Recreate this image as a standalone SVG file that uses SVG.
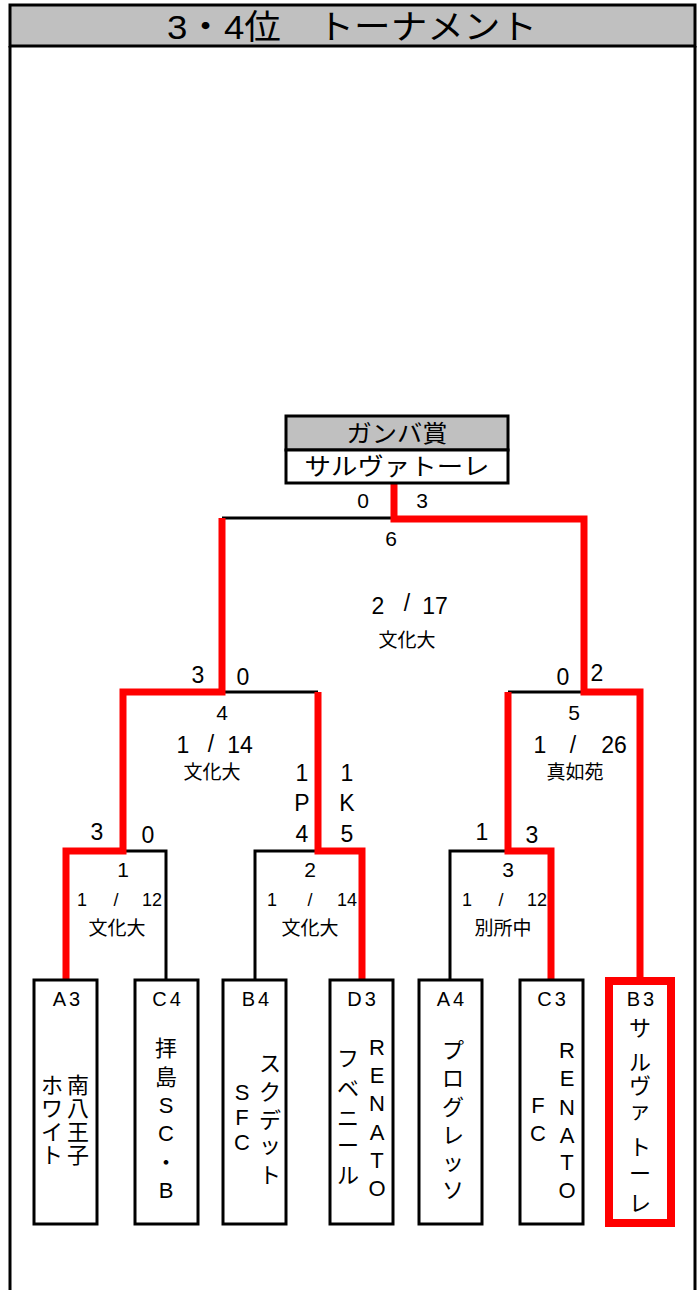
<svg xmlns="http://www.w3.org/2000/svg" width="700" height="1290" viewBox="0 0 700 1290">
<style>
text{font-family:"Liberation Sans","Noto Sans CJK JP",sans-serif;fill:#000;text-anchor:middle}
.s{font-size:21px}
.m{font-size:23px}
.sm{font-size:18px}
.k{font-size:19px}
.v{font-size:22px}
.lab{font-size:20px;letter-spacing:3px}
.blk{fill:none;stroke:#000;stroke-width:3}
.red{fill:none;stroke:#ff0000;stroke-width:7;stroke-linejoin:miter}
.box{fill:#fff;stroke:#000;stroke-width:3}
</style>
<rect width="700" height="1290" fill="#fff"/>
<g id="frame">
<rect x="10" y="5" width="685" height="41" fill="#c0c0c0" stroke="#000" stroke-width="3"/>
<line x1="10" y1="46" x2="10" y2="1290" stroke="#000" stroke-width="3"/>
<line x1="695" y1="46" x2="695" y2="1290" stroke="#000" stroke-width="3"/>
<text x="352" y="39" style="font-size:34px" textLength="370" lengthAdjust="spacingAndGlyphs">3・4位　トーナメント</text>
</g>
<g id="connectors">
<path class="blk" d="M222,518 H394"/>
<path class="blk" d="M222,692 H318"/>
<path class="blk" d="M123,851 H166 V980"/>
<path class="blk" d="M255,980 V851 H318"/>
<path class="blk" d="M508,692 H584"/>
<path class="blk" d="M450,980 V851 H508"/>
<path class="red" d="M394,483 V519 H584 V692 H640 V978"/>
<path class="red" d="M222,518 V692 H123 V851 H66 V980"/>
<path class="red" d="M318,692 V851 H362 V980"/>
<path class="red" d="M508,692 V851 H551 V980"/>
</g>
<g id="champion">
<rect x="286" y="416" width="222" height="34" fill="#c0c0c0" stroke="#000" stroke-width="3"/>
<rect x="286" y="450" width="222" height="33" fill="#fff" stroke="#000" stroke-width="3"/>
<text x="397" y="442" style="font-size:24px" textLength="101" lengthAdjust="spacingAndGlyphs">ガンバ賞</text>
<text x="397" y="475" style="font-size:24px" textLength="185" lengthAdjust="spacingAndGlyphs">サルヴァトーレ</text>
</g>
<g id="match6">
<text class="s" x="363" y="508">0</text>
<text class="s" x="422" y="508">3</text>
<text class="s" x="391" y="546">6</text>
<text class="m" x="378" y="614">2</text>
<text class="m" x="407" y="611">/</text>
<text class="m" x="435" y="614">17</text>
<text class="k" x="407" y="647">文化大</text>
</g>
<g id="match4">
<text class="m" x="198" y="683">3</text>
<text class="m" x="243" y="685">0</text>
<text class="s" x="222" y="720">4</text>
<text class="m" x="183" y="753">1</text>
<text class="m" x="211" y="752">/</text>
<text class="m" x="240" y="753">14</text>
<text class="k" x="212" y="779">文化大</text>
<text class="m" x="302" y="781">1</text>
<text class="m" x="302" y="811">P</text>
<text class="m" x="302" y="842">4</text>
<text class="m" x="347" y="781">1</text>
<text class="m" x="347" y="811">K</text>
<text class="m" x="347" y="842">5</text>
</g>
<g id="match5">
<text class="m" x="563" y="685">0</text>
<text class="m" x="597" y="681">2</text>
<text class="s" x="574" y="720">5</text>
<text class="m" x="540" y="753">1</text>
<text class="m" x="573" y="753">/</text>
<text class="m" x="614" y="753">26</text>
<text class="k" x="575" y="779">真如苑</text>
</g>
<g id="match1">
<text class="m" x="97" y="840">3</text>
<text class="m" x="148" y="843">0</text>
<text class="s" x="123" y="877">1</text>
<text class="sm" x="82" y="906">1</text>
<text class="sm" x="116" y="906">/</text>
<text class="sm" x="152" y="906">12</text>
<text class="k" x="117" y="935">文化大</text>
</g>
<g id="match2">
<text class="s" x="310" y="877">2</text>
<text class="sm" x="272" y="906">1</text>
<text class="sm" x="310" y="906">/</text>
<text class="sm" x="347" y="906">14</text>
<text class="k" x="310" y="935">文化大</text>
</g>
<g id="match3">
<text class="m" x="482" y="840">1</text>
<text class="m" x="532" y="843">3</text>
<text class="s" x="508" y="877">3</text>
<text class="sm" x="467" y="906">1</text>
<text class="sm" x="501" y="906">/</text>
<text class="sm" x="537" y="906">12</text>
<text class="k" x="503" y="935">別所中</text>
</g>
<g id="teamA3">
<rect class="box" x="34" y="980" width="63" height="244"/>
<text class="lab" x="68" y="1006">A3</text>
<text class="v"><tspan x="78" y="1093">南</tspan><tspan x="78" y="1116">八</tspan><tspan x="78" y="1140">王</tspan><tspan x="78" y="1163">子</tspan></text>
<text class="v"><tspan x="52" y="1093">ホ</tspan><tspan x="52" y="1116">ワ</tspan><tspan x="52" y="1140">イ</tspan><tspan x="52" y="1163">ト</tspan></text>
</g>
<g id="teamC4">
<rect class="box" x="135" y="980" width="63" height="244"/>
<text class="lab" x="168" y="1006">C4</text>
<text class="v"><tspan x="166" y="1056">拝</tspan><tspan x="166" y="1085">島</tspan><tspan x="166" y="1113">S</tspan><tspan x="166" y="1141">C</tspan><tspan x="166" y="1170">・</tspan><tspan x="166" y="1198">B</tspan></text>
</g>
<g id="teamB4">
<rect class="box" x="223" y="980" width="63" height="244"/>
<text class="lab" x="257" y="1006">B4</text>
<text class="v"><tspan x="270" y="1071">ス</tspan><tspan x="270" y="1100">ク</tspan><tspan x="270" y="1128">デ</tspan><tspan x="270" y="1153">ッ</tspan><tspan x="270" y="1183">ト</tspan></text>
<text class="v"><tspan x="242" y="1100">S</tspan><tspan x="242" y="1125">F</tspan><tspan x="242" y="1150">C</tspan></text>
</g>
<g id="teamD3">
<rect class="box" x="330" y="980" width="63" height="244"/>
<text class="lab" x="363" y="1006">D3</text>
<text class="v"><tspan x="377" y="1055">R</tspan><tspan x="377" y="1083">E</tspan><tspan x="377" y="1111">N</tspan><tspan x="377" y="1140">A</tspan><tspan x="377" y="1168">T</tspan><tspan x="377" y="1196">O</tspan></text>
<text class="v"><tspan x="348" y="1066">フ</tspan><tspan x="348" y="1096">ベ</tspan><tspan x="348" y="1126">ニ</tspan><tspan x="348" y="1153">ー</tspan><tspan x="348" y="1183">ル</tspan></text>
</g>
<g id="teamA4">
<rect class="box" x="419" y="980" width="63" height="244"/>
<text class="lab" x="452" y="1006">A4</text>
<text class="v"><tspan x="453" y="1058">プ</tspan><tspan x="453" y="1086">ロ</tspan><tspan x="453" y="1115">グ</tspan><tspan x="453" y="1143">レ</tspan><tspan x="453" y="1170">ッ</tspan><tspan x="453" y="1198">ソ</tspan></text>
</g>
<g id="teamC3">
<rect class="box" x="520" y="980" width="63" height="244"/>
<text class="lab" x="553" y="1006">C3</text>
<text class="v"><tspan x="567" y="1058">R</tspan><tspan x="567" y="1086">E</tspan><tspan x="567" y="1115">N</tspan><tspan x="567" y="1143">A</tspan><tspan x="567" y="1170">T</tspan><tspan x="567" y="1198">O</tspan></text>
<text class="v"><tspan x="538" y="1113">F</tspan><tspan x="538" y="1141">C</tspan></text>
</g>
<g id="teamB3">
<rect x="609" y="981" width="62" height="242" fill="#fff" stroke="#ff0000" stroke-width="8"/>
<text class="lab" x="642" y="1006">B3</text>
<text class="v"><tspan x="640" y="1036">サ</tspan><tspan x="640" y="1070">ル</tspan><tspan x="640" y="1094">ヴ</tspan><tspan x="640" y="1118">ァ</tspan><tspan x="640" y="1155">ト</tspan><tspan x="640" y="1181">ー</tspan><tspan x="640" y="1211">レ</tspan></text>
</g>
</svg>
